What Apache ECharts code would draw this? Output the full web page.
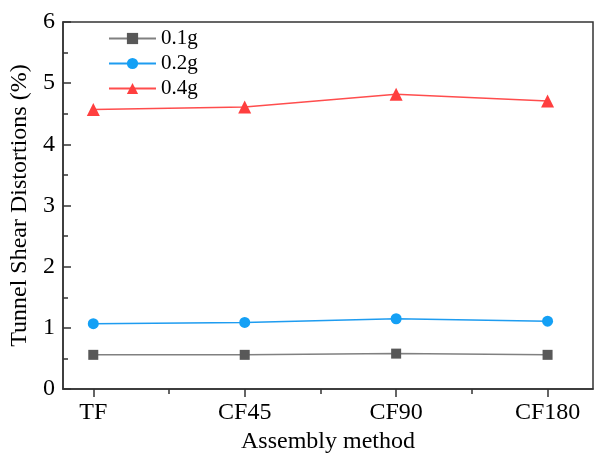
<!DOCTYPE html>
<html><head><meta charset="utf-8">
<script src="https://cdn.jsdelivr.net/npm/echarts@6/dist/echarts.min.js"></script>
<style>html,body{margin:0;padding:0;background:#fff;overflow:hidden}#c{width:601px;height:459px}</style>
</head><body><div id="c"></div>
<script>
var categories = ['TF', 'CF45', 'CF90', 'CF180'];
var s01 = [0.56, 0.56, 0.58, 0.56];
var s02 = [1.07, 1.09, 1.15, 1.11];
var s04 = [4.57, 4.61, 4.82, 4.71];
var yTicks = [0, 1, 2, 3, 4, 5, 6];

function pts(arr){ return arr.map(function(v,i){ return [i, v]; }); }
var font = 'Liberation Serif';
var chart = echarts.init(document.getElementById('c'));
chart.setOption({
  animation: false,
  grid: {left: 63, top: 22, right: 8, bottom: 64, show: true, borderColor: '#333', borderWidth: 1.5, backgroundColor: 'transparent'},
  legend: {
    orient: 'vertical', left: 103, top: 21, itemWidth: 47, itemHeight: 14, itemGap: 0,
    textStyle: {fontFamily: font, fontSize: 21, color: '#000', lineHeight: 25},
    data: ['0.1g', '0.2g', '0.4g']
  },
  xAxis: [{
    type: 'value', min: -0.2, max: 3.3,
    name: 'Assembly method', nameLocation: 'middle', nameGap: 40,
    nameTextStyle: {fontFamily: font, fontSize: 24, color: '#000'},
    axisLine: {show: true, onZero: false, lineStyle: {color: '#333', width: 1.5}},
    axisTick: {show: true, inside: false, length: 8, customValues: [0, 1, 2, 3], lineStyle: {color: '#333', width: 1.5}},
    axisLabel: {customValues: [0, 1, 2, 3], margin: 12, fontFamily: font, fontSize: 24, color: '#000',
      formatter: function(v){ return categories[Math.round(v)]; }},
    splitLine: {show: false}
  }, {
    type: 'value', min: -0.2, max: 3.3, position: 'bottom',
    axisLine: {show: false, onZero: false},
    axisTick: {show: true, inside: false, length: 5, customValues: [0.5, 1.5, 2.5], lineStyle: {color: '#333', width: 1.5}},
    axisLabel: {show: false},
    splitLine: {show: false}
  }],
  yAxis: {
    type: 'value', min: 0, max: 6, interval: 1,
    name: 'Tunnel Shear Distortions (%)', nameLocation: 'middle', nameGap: 30,
    nameTextStyle: {fontFamily: font, fontSize: 24, color: '#000'},
    axisLine: {show: true, onZero: false, lineStyle: {color: '#333', width: 1.5}},
    axisTick: {show: true, inside: true, length: 8, lineStyle: {color: '#333', width: 1.5}},
    minorTick: {show: true, splitNumber: 2, length: 5, lineStyle: {color: '#333', width: 1.5}},
    axisLabel: {margin: 8, fontFamily: font, fontSize: 24, color: '#000',
      formatter: function(v){ return yTicks.indexOf(v) >= 0 ? String(v) : ''; }},
    splitLine: {show: false}
  },
  series: [{
    name: '0.1g', type: 'line', data: pts(s01), symbol: 'rect', symbolSize: 10,
    lineStyle: {color: '#808080', width: 1.5}, itemStyle: {color: '#585858'}
  }, {
    name: '0.2g', type: 'line', data: pts(s02), symbol: 'circle', symbolSize: 11,
    lineStyle: {color: '#1e9cf0', width: 1.5}, itemStyle: {color: '#14a0f5'}
  }, {
    name: '0.4g', type: 'line', data: pts(s04), symbol: 'triangle', symbolSize: 13,
    lineStyle: {color: '#ff4d4d', width: 1.5}, itemStyle: {color: '#ff3f3f'}
  }]
});
</script></body></html>
